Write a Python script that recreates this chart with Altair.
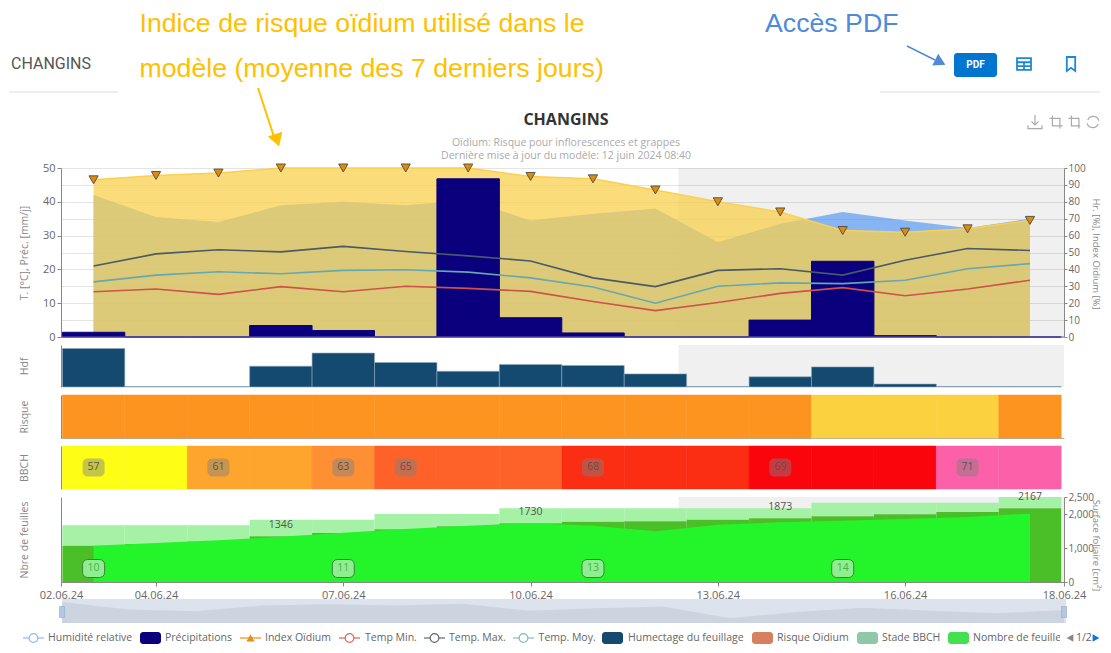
import altair as alt
import pandas as pd

# ---------- data ----------
days = list(range(3, 19))
precip = [1.4, 0, 0, 3.4, 1.9, 0, 46.8, 5.7, 1.2, 0, 0, 5.0, 22.4, 0.4, 0, 0]
index_oidium = [93, 95.6, 97, 100, 100, 100, 100, 95, 93.6, 87, 80, 74, 63, 62, 64, 69]
humidity = [84, 71, 68, 78, 80, 78, 81, 69, 73, 76, 56, 67, 74, 69, 64.5, 70]
temp_max = [21, 24.6, 25.8, 25.2, 26.8, 25.3, 24, 22.5, 17.5, 14.9, 19.7, 20.2, 18.3, 22.7, 26.2, 25.6]
temp_moy = [16.3, 18.3, 19.3, 18.7, 19.7, 19.9, 19.2, 17.5, 14.8, 10, 15, 16, 15.8, 16.8, 20.2, 21.7]
temp_min = [13.4, 14.2, 12.6, 14.9, 13.4, 15, 14.4, 13.5, 10.5, 7.8, 10.2, 12.9, 14.6, 12.2, 14.2, 16.8]
hdf = [22, 0.3, 0.3, 11.9, 19.4, 14, 9, 12.9, 12.3, 7.5, 0.3, 5.8, 11.5, 1.7, 0.3, 0.3]
risk = ["fort", "fort", "fort", "fort", "fort", "fort", "fort", "fort", "fort", "fort", "fort", "fort",
        "moyen", "moyen", "moyen", "fort"]
risk_levels = ["fort", "moyen"]
risk_colors = ["#fd941f", "#fbd13f"]
bbch = [57, 57, 61, 61, 63, 65, 65, 65, 68, 68, 68, 69, 69, 69, 71, 71]
bbch_levels = [57, 61, 63, 65, 68, 69, 71]
bbch_colors = ["#fdfd15", "#fda52c", "#fe8f33", "#fe6228", "#fb2d12", "#fb050d", "#fb60a8"]
bbch_label_days = [3, 5, 7, 8, 11, 14, 17]
surface = [1069, 1120, 1190, 1346, 1440, 1550, 1640, 1730, 1775, 1784, 1833, 1873, 1931, 1990, 2059, 2167]
surface_labels = {6: "1346", 10: "1730", 14: "1873", 18: "2167"}
leaf_tops = [1667, 1667, 1667, 1833, 1833, 2000, 2000, 2167, 2167, 2167, 2167, 2167, 2333, 2333, 2333, 2500]
leaf_area = [1069, 1147, 1225, 1333, 1451, 1559, 1657, 1725, 1657, 1490, 1686, 1755, 1804, 1853, 1912, 2010]
leaf_badges = {3: "10", 7: "11", 11: "13", 15: "14"}
x_min, x_max = 2.478, 18.545
forecast_start = 12.37
tick_values = [x_min, 4, 7, 10, 13, 16, x_max]
tick_labels = ["02.06.24", "04.06.24", "07.06.24", "10.06.24", "13.06.24", "16.06.24", "18.06.24"]

legend_items = ["Humidité relative", "Précipitations", "Index Oïdium", "Temp Min.", "Temp. Max.", "Temp. Moy.",
                "Humectage du feuillage", "Risque Oïdium", "Stade BBCH", "Nombre de feuilles"]
legend_colors = ["#8fb8f8", "#0a007e", "#e89012", "#d9695a", "#5c6a78", "#7fbcbc",
                 "#144a70", "#d6805f", "#8fc8a8", "#44e050"]
legend_kinds = ["circle", "rect", "triangle", "circle", "circle", "circle", "rect", "rect", "rect", "rect"]
legend_sym_left = [23, 140, 240, 339, 424, 513, 602, 752, 857, 948]
legend_text_left = [48, 165, 265, 365, 449, 538.6, 628, 777, 882, 973]

# ---------- tables ----------
FONT = "Open Sans"
W = 1003
OX, OY = 61, 8
df = pd.DataFrame({
    "day": days, "start": [d - 0.5 for d in days], "end": [d + 0.5 for d in days],
    "precip": precip, "index": index_oidium, "hum": humidity, "tmax": temp_max, "tmoy": temp_moy,
    "tmin": temp_min, "hdf": hdf, "risk": risk, "bbch": bbch, "surface": surface, "leaf_top": leaf_tops,
    "leaf_area": leaf_area, "y0": 0, "y1": 1, "base": 48,
})
df["surface_label"] = df["day"].map(surface_labels)
df["leaf_badge"] = df["day"].map(leaf_badges)
band_df = pd.DataFrame({"start": [forecast_start], "end": [x_max]})
one = pd.DataFrame({"a": [0]})
bbch_df = df[df["day"].isin(bbch_label_days)]
surf_df = df[df["surface_label"].notna()]
leaf_df = df[df["leaf_badge"].notna()]

xs = alt.Scale(domain=[x_min, x_max], nice=False, zero=False)
X = lambda f: alt.X(f"{f}:Q", scale=xs, axis=None)
label_expr = ("[" + ",".join(f"'{t}'" for t in tick_labels) + "][indexof(["
              + ",".join(str(t) for t in tick_values) + "],datum.value)]")
axis_common = dict(labelColor="#666", labelFont=FONT, labelFontSize=11, domainColor="#888", tickColor="#888",
                   titleFont=FONT, titleFontSize=10.5, titleFontWeight="normal", titleColor="#888", tickSize=4)
right_common = {**axis_common, "labelFontSize": 10, "labelPadding": 1, "titleFontSize": 9.5, "tickSize": 3}
RTX = 26


def left_axis(title, h, **kw):
    return alt.Axis(title=title, orient="left", titleX=-32, titleY=h / 2, **{**axis_common, **kw})


def bottom_domain():
    return alt.Axis(title=None, labels=False, ticks=False, grid=False, domainColor="#aaa")


band = alt.Chart(band_df).mark_rect(color="#000000", opacity=0.06).encode(x=X("start"), x2="end:Q")

# ---------- main panel ----------
MH = 169
sl = alt.Scale(domain=[0, 50], nice=False)
sr = alt.Scale(domain=[0, 100], nice=False)
base = alt.Chart(df)
main = alt.layer(
    alt.Chart(one).mark_rule(opacity=0).encode(
        y=alt.Y("a:Q", scale=sl, axis=left_axis("T. [°C], Préc. [mm/j]", MH, values=list(range(0, 51, 10)), grid=False))),
    alt.Chart(one).mark_rule(opacity=0).encode(
        y=alt.Y("a:Q", scale=sr, axis=alt.Axis(title="Hr. [%], Index Oïdium [%]", orient="right", titleAngle=90, titleX=RTX,
                                               titleY=MH / 2 + 1, values=list(range(0, 101, 10)), grid=True,
                                               gridColor="#e4e4e4", **right_common))),
    band,
    base.mark_area(color="#5599f5", opacity=0.68).encode(x=X("day"), y=alt.Y("hum:Q", scale=sr, axis=None, stack=None)),
    base.mark_area(color="#fad04b", opacity=0.74).encode(x=X("day"), y=alt.Y("index:Q", scale=sr, axis=None, stack=None)),
    base.mark_line(color="#fbd050", strokeWidth=1.5).encode(x=X("day"), y=alt.Y("index:Q", scale=sr, axis=None)),
    base.mark_rect(color="#0a007e", stroke="#0a007e", strokeWidth=1).encode(
        x=X("start"), x2="end:Q", y=alt.Y("precip:Q", scale=sl, axis=None), y2="y0:Q"),
    alt.Chart(pd.DataFrame({"s": [x_min], "e": [x_max], "v": [0]})).mark_rule(color="#6a60b0", strokeWidth=1).encode(
        x=X("s"), x2="e:Q", y=alt.Y("v:Q", scale=sl, axis=None)),
    base.mark_line(color="#4a5a68", strokeWidth=1.6).encode(x=X("day"), y=alt.Y("tmax:Q", scale=sl, axis=None)),
    base.mark_line(color="#64a8b0", strokeWidth=1.6).encode(x=X("day"), y=alt.Y("tmoy:Q", scale=sl, axis=None)),
    base.mark_line(color="#d0504a", strokeWidth=1.6).encode(x=X("day"), y=alt.Y("tmin:Q", scale=sl, axis=None)),
    base.mark_point(shape="triangle-down", filled=True, fill="#e28a00", stroke="#555555", strokeWidth=1, size=85,
                    opacity=1).encode(x=X("day"), y=alt.Y("index:Q", scale=sr, axis=None)),
).resolve_scale(y="independent").properties(width=W, height=MH)

# ---------- Hdf ----------
H2 = 42
hdf_panel = alt.layer(
    band,
    base.mark_rect(color="#144a70", stroke="#8fa8bc", strokeWidth=0.6).encode(
        x=alt.X("start:Q", scale=xs, axis=bottom_domain()), x2="end:Q",
        y=alt.Y("hdf:Q", scale=alt.Scale(domain=[0, 24], nice=False),
                axis=left_axis("Hdf", H2, labels=False, ticks=False, grid=False)), y2="y0:Q"),
).properties(width=W, height=H2)

# ---------- Risque ----------
H3 = 43
y01 = alt.Scale(domain=[0, 1], nice=False)
risk_scale = alt.Scale(domain=risk_levels, range=risk_colors)
risk_panel = base.mark_rect(strokeWidth=0.5).encode(
    x=alt.X("start:Q", scale=xs, axis=bottom_domain()), x2="end:Q",
    y=alt.Y("y0:Q", scale=y01, axis=left_axis("Risque", H3, labels=False, ticks=False, grid=False)), y2="y1:Q",
    color=alt.Color("risk:N", scale=risk_scale, legend=None),
    stroke=alt.Stroke("risk:N", scale=risk_scale, legend=None),
).properties(width=W, height=H3)

# ---------- BBCH ----------
bbch_scale = alt.Scale(domain=bbch_levels, range=bbch_colors)
bbch_panel = alt.layer(
    base.mark_rect(strokeWidth=0.5).encode(
        x=alt.X("start:Q", scale=xs, axis=bottom_domain()), x2="end:Q",
        y=alt.Y("y0:Q", scale=y01, axis=left_axis("BBCH", H3, labels=False, ticks=False, grid=False)), y2="y1:Q",
        color=alt.Color("bbch:O", scale=bbch_scale, legend=None),
        stroke=alt.Stroke("bbch:O", scale=bbch_scale, legend=None)),
    alt.Chart(bbch_df).mark_rect(width=22, height=18, cornerRadius=5, color="#808080", opacity=0.45).encode(
        x=X("day"), y=alt.value(H3 / 2)),
    alt.Chart(bbch_df).mark_text(font=FONT, fontSize=10.5, color="#555555").encode(
        x=X("day"), y=alt.value(H3 / 2 - 0.5), text="bbch:N"),
).properties(width=W, height=H3)

# ---------- Feuilles ----------
H5 = 85
sf = alt.Scale(domain=[0, 2500], nice=False)
x_axis = alt.Axis(title=None, values=tick_values, labelExpr=label_expr, labelOverlap=False, labelBound=False,
                  labelFlush=False, grid=False, labelPadding=3, **axis_common)
XL = lambda f: alt.X(f"{f}:Q", scale=xs, axis=x_axis)
leaf_panel = alt.layer(
    alt.Chart(band_df).mark_rect(color="#000000", opacity=0.06).encode(x=XL("start"), x2="end:Q"),
    base.mark_rect(color="#a0f0a0", opacity=0.95).encode(
        x=XL("start"), x2="end:Q",
        y=alt.Y("surface:Q", scale=sf,
                axis=alt.Axis(title="Surface foliaire [cm²]", orient="right", titleAngle=90,
                              titleX=RTX, titleY=48, values=[0, 1000, 2000, 2500],
                              labelExpr="format(datum.value, ',')", grid=False, **right_common)),
        y2="leaf_top:Q"),
    base.mark_rect(color="#4bbf28").encode(x=XL("start"), x2="end:Q",
                                           y=alt.Y("surface:Q", scale=sf, axis=None), y2="y0:Q"),
    base.mark_area(color="#24f52a").encode(
        x=XL("day"), y=alt.Y("leaf_area:Q", scale=sf, stack=None,
                             axis=left_axis("Nbre de feuilles", H5, labels=False, ticks=False, grid=False))),
    alt.Chart(surf_df).mark_text(font=FONT, fontSize=10.5, color="#555555", dy=-11).encode(
        x=XL("day"), y=alt.Y("surface:Q", scale=sf, axis=None), text="surface_label:N"),
    alt.Chart(leaf_df).mark_rect(width=22, height=18, cornerRadius=5, color="#8fee8f", stroke="#3f7f3f",
                                 strokeWidth=1).encode(x=XL("day"), y=alt.value(71.5)),
    alt.Chart(leaf_df).mark_text(font=FONT, fontSize=10.5, color="#4caf50").encode(
        x=XL("day"), y=alt.value(71), text="leaf_badge:N"),
).resolve_scale(y="independent").properties(width=W, height=H5)

# ---------- slider ----------
SH = 33
sx = alt.Scale(domain=[3, 18], nice=False, zero=False, range=[1, 1003])
slider = alt.layer(
    alt.Chart(one).mark_rect(color="#dde3ed").encode(
        x=alt.value(1), x2=alt.value(1005), y=alt.value(9), y2=alt.value(SH)),
    base.mark_area(color="#ccd4e0").encode(
        x=alt.X("day:Q", scale=sx, axis=None),
        y=alt.Y("hum:Q", scale=alt.Scale(domain=[48, 89], range=[SH, 9], nice=False, zero=False), axis=None, stack=None),
        y2="base:Q"),
    alt.Chart(df[df["day"].isin([3, 18])]).mark_rect(width=5, height=11, color="#b4c6e4", stroke="#8ea8d0",
                                                     strokeWidth=0.6).encode(
        x=alt.X("day:Q", scale=sx, axis=None), y=alt.value(22)),
).properties(width=W, height=SH)

# ---------- legend row ----------
LH = 14
LY = 7
lg = pd.DataFrame({"name": legend_items, "col": legend_colors, "kind": legend_kinds,
                   "l": [v - OX for v in legend_sym_left], "t": [v - OX for v in legend_text_left]})
lg["r"] = lg["l"] + 21
lg["c"] = lg["l"] + 10.5
lg_lines = lg[lg["kind"] != "rect"]
lg_circ = lg[lg["kind"] == "circle"]
lg_tri = lg[lg["kind"] == "triangle"]
lg_rect = lg[lg["kind"] == "rect"]
PXX = lambda f: alt.X(f"{f}:Q", scale=None, axis=None)
CC = alt.Color("col:N", scale=None, legend=None)
legend_panel = alt.layer(
    alt.Chart(lg_lines).mark_rule(strokeWidth=1.2).encode(x=PXX("l"), x2="r:Q", y=alt.value(LY), color=CC),
    alt.Chart(lg_circ).mark_point(shape="circle", filled=True, fill="#ffffff", size=75, strokeWidth=1.2, opacity=1).encode(
        x=PXX("c"), y=alt.value(LY), stroke=alt.Stroke("col:N", scale=None, legend=None)),
    alt.Chart(lg_tri).mark_point(shape="triangle-up", filled=True, size=70, opacity=1).encode(
        x=PXX("c"), y=alt.value(LY), fill=alt.Fill("col:N", scale=None, legend=None)),
    alt.Chart(lg_rect).mark_rect(cornerRadius=3).encode(
        x=PXX("l"), x2="r:Q", y=alt.value(LY - 6), y2=alt.value(LY + 6), color=CC),
    alt.Chart(lg).mark_text(align="left", font=FONT, fontSize=10.5, color="#666666").encode(
        x=PXX("t"), y=alt.value(LY), text="name:N"),
    alt.Chart(one).mark_rect(color="#ffffff").encode(
        x=alt.value(1060 - OX), x2=alt.value(1066 - OX), y=alt.value(LY - 7), y2=alt.value(LY + 7)),
    alt.Chart(one).mark_point(shape="triangle-left", filled=True, color="#888888", size=60, opacity=1).encode(
        x=alt.value(1070 - OX), y=alt.value(LY)),
    alt.Chart(one).mark_text(text="1/2", align="left", font=FONT, fontSize=10.5, color="#666666").encode(
        x=alt.value(1076 - OX), y=alt.value(LY)),
    alt.Chart(one).mark_point(shape="triangle-right", filled=True, color="#0a78d0", size=60, opacity=1).encode(
        x=alt.value(1096 - OX), y=alt.value(LY)),
).properties(width=W, height=LH)


# ---------- header ----------
def px(v):
    return alt.value(v - OX)


def py(v):
    return alt.value(v - OY)


def txt(s, x, y, **kw):
    return alt.Chart(one).mark_text(text=s, **kw).encode(x=px(x), y=py(y))


def rule(x1, y1, x2, y2, color, w):
    return alt.Chart(one).mark_rule(color=color, strokeWidth=w).encode(x=px(x1), x2=px(x2), y=py(y1), y2=py(y2))


def sym(shape, x, y, size, color, w=1.2, filled=False, angle=0):
    kw = dict(fill=color) if filled else {}
    return alt.Chart(one).mark_point(shape=shape, size=size, stroke=color, strokeWidth=w, filled=filled, angle=angle,
                                     opacity=1, **kw).encode(x=px(x), y=py(y))


GOLD = "#ffc000"
BLUE = "#4f8ad8"
ICON = "#1e88d8"
TOOL = "#aaaaaa"
ARIAL = "Liberation Sans"
header = alt.layer(
    rule(9, 92, 118, 92, "#e8e8e8", 1.5),
    rule(880, 92, 1100, 92, "#e8e8e8", 1.5),
    txt("CHANGINS", 11, 64, align="left", font="Roboto", fontSize=16, color="#555555"),
    txt("Indice de risque oïdium utilisé dans le", 139.5, 24, align="left", font=ARIAL, fontSize=26.7, color=GOLD),
    txt("modèle (moyenne des 7 derniers jours)", 139.5, 69, align="left", font=ARIAL, fontSize=26.7, color=GOLD),
    txt("Accès PDF", 765, 24, align="left", font=ARIAL, fontSize=26.7, color=BLUE),
    rule(258, 88, 275, 140, GOLD, 2),
    sym("triangle-up", 277, 140, 170, GOLD, filled=True, angle=162),
    rule(907, 46, 935, 60, BLUE, 1.5),
    sym("triangle-up", 940, 62, 120, BLUE, filled=True, angle=117),
    alt.Chart(one).mark_rect(color="#0275d0", cornerRadius=3).encode(x=px(954), x2=px(997), y=py(53), y2=py(77)),
    txt("PDF", 975.5, 65, font="Roboto", fontSize=10, fontWeight="bold", color="#ffffff"),
    sym("M-1,-0.85 H1 V0.85 H-1 Z M-1,-0.25 H1 M-1,0.3 H1 M0,-0.25 V0.85", 1024, 64, 196, ICON, w=1.8),
    sym("M-0.6,-1 H0.6 V1 L0,0.55 L-0.6,1 Z", 1071, 64, 196, ICON, w=1.8),
    txt("CHANGINS", 566, 120, font=FONT, fontSize=16, fontWeight="bold", color="#333333"),
    txt("Oïdium: Risque pour inflorescences et grappes", 566, 143, font=FONT, fontSize=10.5, color="#aaaaaa"),
    txt("Dernière mise à jour du modèle: 12 juin 2024 08:40", 566, 156, font=FONT, fontSize=10.5, color="#aaaaaa"),
    sym("M0,-1 V0.35 M-0.5,-0.1 L0,0.4 L0.5,-0.1 M-1,0.45 V0.95 H1 V0.45", 1035, 122, 196, TOOL),
    sym("M-0.55,-1 V0.6 H1 M-1,-0.55 H0.6 V1", 1056, 122, 169, TOOL),
    sym("M-0.55,-1 V0.6 H0.8 M-1,-0.55 H0.6 V1", 1075, 122, 169, TOOL),
    sym("M0.9,-0.2 A0.9,0.9 0 0 0 -0.8,-0.3 M-0.9,0.2 A0.9,0.9 0 0 0 0.8,0.3", 1093, 122, 169, TOOL),
).properties(width=W, height=152)

chart = alt.vconcat(header, main, hdf_panel, risk_panel, bbch_panel, leaf_panel, slider, legend_panel).properties(
    spacing=8, bounds="flush", padding=0, background="white"
).resolve_scale(color="independent", stroke="independent", x="independent").configure_view(stroke=None)

chart.save("out.html", embed_options={"renderer": "svg", "actions": False})
